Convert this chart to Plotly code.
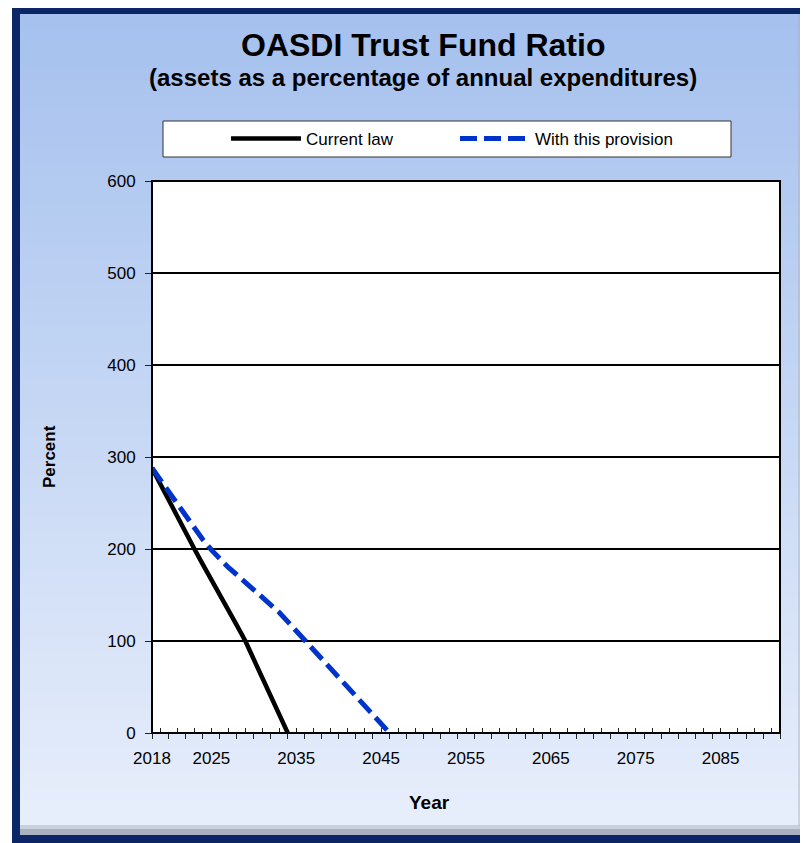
import plotly.graph_objects as go

# ---------------- data ----------------
years_current = list(range(2018, 2035))
current_law = [288, 270, 253, 235, 218, 200, 183, 167, 150, 133, 117, 100, 80, 60, 40, 20, 0]

years_provision = list(range(2018, 2047))
with_provision = [288, 275, 261, 248, 235, 222, 210, 199, 189, 180, 172, 164, 156, 148, 140,
                  131, 121, 111, 101, 91, 81, 71, 61, 51, 41, 31, 21, 11, 0]

x_tick_labels = [2018, 2025, 2035, 2045, 2055, 2065, 2075, 2085]
y_tick_values = [0, 100, 200, 300, 400, 500, 600]
x_range = [2018, 2092]

title_text = "OASDI Trust Fund Ratio"
subtitle_text = "(assets as a percentage of annual expenditures)"

# ---------------- layout helpers ----------------
# page is 808x843; the figure sits at page offset (8, 8) because of the body margin
OFF = 8
W, H = 808 - OFF, 843 - OFF
PL, PR, PT, PB = 152, 780, 181, 733          # plot area in page pixels
L, T = PL - OFF, PT - OFF
R, B = 808 - PR, 843 - PB
PW, PH = PR - PL, PB - PT


def px2x(px):
    return (px - PL) / PW


def py2y(py):
    return (PB - py) / PH


FONT = "Arial, Liberation Sans, sans-serif"

fig = go.Figure()
fig.add_trace(go.Scatter(x=years_current, y=current_law, mode="lines", name="Current law",
                         line=dict(color="#000000", width=4.5), xaxis="x", yaxis="y"))
fig.add_trace(go.Scatter(x=years_provision, y=with_provision, mode="lines", name="With this provision",
                         line=dict(color="#0033CC", width=5, dash="17px,7px"), xaxis="x", yaxis="y"))
# invisible helper trace so the label axis is drawn
fig.add_trace(go.Scatter(x=x_range, y=[0, 0], mode="lines", line=dict(color="rgba(0,0,0,0)"),
                         showlegend=False, hoverinfo="skip", xaxis="x2", yaxis="y"))

shapes = []
# navy frame
shapes.append(dict(type="rect", xref="paper", yref="paper", layer="below",
                   x0=px2x(12), x1=px2x(812), y0=py2y(850), y1=py2y(0),
                   fillcolor="#0B2566", line=dict(width=0)))
# gradient background
top = (166, 193, 238)
bot = (231, 238, 251)
y_top, y_bot = 14, 828
N = 60
for i in range(N):
    t = i / (N - 1)
    c = tuple(round(top[k] + (bot[k] - top[k]) * t) for k in range(3))
    ya = y_top + (y_bot - y_top) * i / N
    yb = min(y_top + (y_bot - y_top) * (i + 1) / N + 3, y_bot)
    shapes.append(dict(type="rect", xref="paper", yref="paper", layer="below",
                       x0=px2x(20), x1=px2x(812), y0=py2y(yb), y1=py2y(ya),
                       fillcolor="rgb(%d,%d,%d)" % c, line=dict(width=0)))
# bevels
shapes.append(dict(type="rect", xref="paper", yref="paper", layer="below",
                   x0=px2x(20), x1=px2x(812), y0=py2y(835), y1=py2y(826),
                   fillcolor="#A9B2C2", line=dict(width=0)))
shapes.append(dict(type="rect", xref="paper", yref="paper", layer="below",
                   x0=px2x(20), x1=px2x(812), y0=py2y(829), y1=py2y(825),
                   fillcolor="#C9D0DC", line=dict(width=0)))
shapes.append(dict(type="rect", xref="paper", yref="paper", layer="below",
                   x0=px2x(798), x1=px2x(812), y0=py2y(826), y1=py2y(14),
                   fillcolor="rgba(170,178,195,0.45)", line=dict(width=0)))
# plot area
shapes.append(dict(type="rect", xref="paper", yref="paper", layer="below",
                   x0=0, x1=1, y0=0, y1=1, fillcolor="#FFFFFF", line=dict(width=0)))
# legend box
shapes.append(dict(type="rect", xref="paper", yref="paper", layer="below",
                   x0=px2x(163), x1=px2x(731), y0=py2y(157), y1=py2y(121),
                   fillcolor="#FFFFFF", line=dict(color="#333333", width=1)))
# plot border
shapes.append(dict(type="rect", xref="paper", yref="paper", layer="above",
                   x0=0, x1=1, y0=0, y1=1, fillcolor="rgba(0,0,0,0)",
                   line=dict(color="#000000", width=2)))

annotations = [
    dict(text="<b>%s</b>" % title_text, xref="paper", yref="paper", x=px2x(423), y=py2y(45),
         xanchor="center", yanchor="middle", showarrow=False,
         font=dict(family=FONT, size=32, color="#000000")),
    dict(text="<b>%s</b>" % subtitle_text, xref="paper", yref="paper", x=px2x(423), y=py2y(78),
         xanchor="center", yanchor="middle", showarrow=False,
         font=dict(family=FONT, size=24, color="#000000")),
    dict(text="<b>Percent</b>", xref="paper", yref="paper", x=px2x(49), y=0.5, textangle=-90,
         xanchor="center", yanchor="middle", showarrow=False,
         font=dict(family=FONT, size=17, color="#000000")),
    dict(text="<b>Year</b>", xref="paper", yref="paper", x=px2x(429), y=py2y(802),
         xanchor="center", yanchor="middle", showarrow=False,
         font=dict(family=FONT, size=19, color="#000000")),
]

fig.update_layout(
    width=W, height=H, autosize=False,
    margin=dict(l=L, r=R, t=T, b=B, pad=0),
    paper_bgcolor="#FFFFFF", plot_bgcolor="rgba(0,0,0,0)",
    font=dict(family=FONT, size=17, color="#000000"),
    shapes=shapes, annotations=annotations,
    showlegend=True,
    legend=dict(orientation="h", x=px2x(226), xanchor="left", y=py2y(139), yanchor="middle",
                bgcolor="rgba(0,0,0,0)", borderwidth=0, entrywidth=144, entrywidthmode="pixels",
                font=dict(family=FONT, size=17, color="#000000"), itemwidth=70),
    xaxis=dict(range=x_range, showgrid=False, zeroline=False, showline=False,
               tickmode="linear", tick0=2018, dtick=2, ticks="outside", ticklen=5, tickwidth=1,
               tickcolor="#222222", showticklabels=False,
               minor=dict(ticks="inside", tick0=2019, dtick=2, ticklen=5, tickwidth=1,
                          tickcolor="#222222", showgrid=False)),
    xaxis2=dict(range=x_range, overlaying="x", anchor="y", side="bottom", showgrid=False,
                zeroline=False, showline=False, tickmode="array", tickvals=x_tick_labels,
                ticktext=[str(v) for v in x_tick_labels], ticks="outside", ticklen=10,
                tickcolor="rgba(0,0,0,0)", tickfont=dict(family=FONT, size=17, color="#000000")),
    yaxis=dict(range=[0, 600], tickmode="array", tickvals=y_tick_values, showgrid=True,
               gridcolor="#000000", gridwidth=2, zeroline=False, showline=False,
               ticks="outside", ticklen=6, tickwidth=1, tickcolor="#222222",
               ticklabelstandoff=6,
               tickfont=dict(family=FONT, size=17, color="#000000")),
)

fig.write_html("out.html")
